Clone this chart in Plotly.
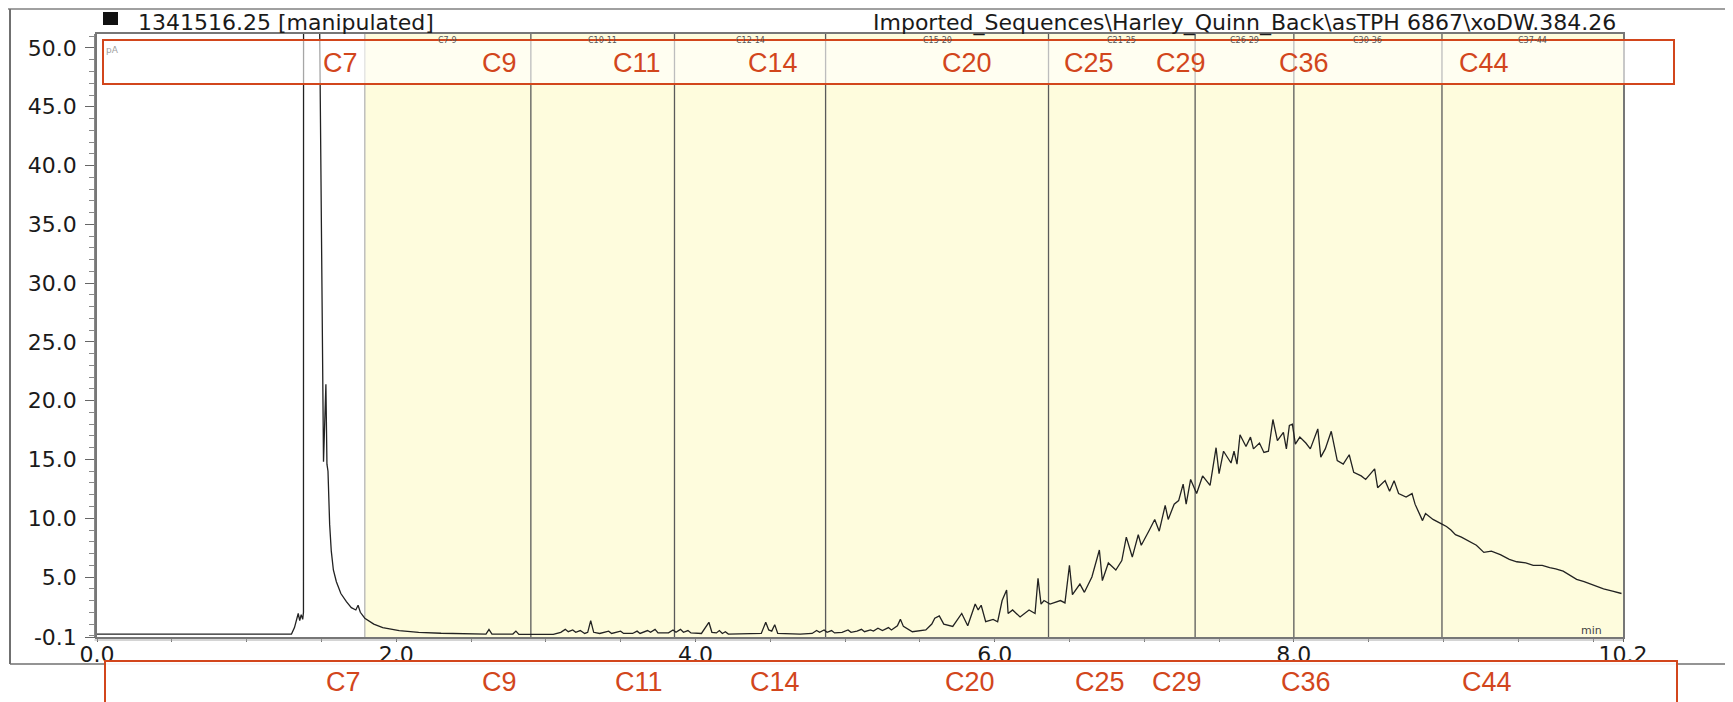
import plotly.graph_objects as go

# chromatogram (retention time in min, signal in pA)
time_min = [0.00, 0.50, 1.00, 1.30, 1.32, 1.335, 1.345, 1.355, 1.365, 1.375, 1.38, 1.385,
            1.48, 1.488, 1.514, 1.53, 1.537, 1.544, 1.555, 1.566, 1.58, 1.60, 1.63, 1.667,
            1.70, 1.73, 1.745, 1.76, 1.79, 1.85, 1.91, 2.02, 2.15, 2.30, 2.45, 2.60, 2.62,
            2.64, 2.78, 2.80, 2.82, 2.90, 3.05, 3.10, 3.13, 3.15, 3.18, 3.20, 3.23, 3.26,
            3.28, 3.30, 3.32, 3.36, 3.42, 3.44, 3.50, 3.52, 3.58, 3.61, 3.63, 3.68, 3.70,
            3.73, 3.75, 3.82, 3.85, 3.87, 3.90, 3.92, 3.95, 3.97, 4.04, 4.09, 4.11, 4.14,
            4.16, 4.18, 4.20, 4.22, 4.35, 4.44, 4.47, 4.49, 4.51, 4.53, 4.55, 4.70, 4.78,
            4.81, 4.83, 4.86, 4.88, 4.91, 4.93, 4.98, 5.02, 5.04, 5.08, 5.11, 5.13, 5.17,
            5.19, 5.22, 5.25, 5.29, 5.31, 5.35, 5.37, 5.39, 5.45, 5.50, 5.54, 5.58, 5.60,
            5.63, 5.66, 5.72, 5.78, 5.82, 5.87, 5.89, 5.91, 5.94, 5.99, 6.02, 6.05, 6.08,
            6.09, 6.12, 6.17, 6.23, 6.27, 6.29, 6.31, 6.33, 6.37, 6.44, 6.47, 6.50, 6.52,
            6.57, 6.60, 6.65, 6.70, 6.72, 6.76, 6.81, 6.85, 6.88, 6.92, 6.96, 6.98, 7.03,
            7.07, 7.10, 7.14, 7.16, 7.20, 7.23, 7.26, 7.28, 7.31, 7.35, 7.39, 7.44, 7.48,
            7.50, 7.53, 7.58, 7.60, 7.62, 7.64, 7.68, 7.71, 7.73, 7.77, 7.80, 7.83, 7.86,
            7.89, 7.93, 7.95, 7.97, 7.99, 8.01, 8.04, 8.08, 8.11, 8.16, 8.18, 8.21, 8.25,
            8.29, 8.33, 8.37, 8.40, 8.45, 8.48, 8.54, 8.56, 8.61, 8.64, 8.67, 8.70, 8.75,
            8.79, 8.81, 8.86, 8.88, 8.93, 8.99, 9.02, 9.05, 9.08, 9.12, 9.18, 9.22, 9.27,
            9.32, 9.38, 9.44, 9.49, 9.55, 9.60, 9.66, 9.71, 9.75, 9.80, 9.84, 9.89, 9.94,
            9.98, 10.03, 10.07, 10.13, 10.19]
signal_pA = [0.15, 0.15, 0.15, 0.15, 0.7, 1.6, 1.9, 1.3, 1.8, 1.4, 2.0, 400,
             400, 52, 14.8, 21.4, 14.6, 14.0, 9.5, 7.2, 5.6, 4.6, 3.6, 2.9,
             2.4, 2.2, 2.6, 2.0, 1.5, 1.0, 0.7, 0.45, 0.3, 0.22, 0.18, 0.15, 0.55,
             0.15, 0.15, 0.4, 0.12, 0.1, 0.12, 0.3, 0.55, 0.35, 0.5, 0.3, 0.45, 0.2,
             0.3, 1.3, 0.3, 0.2, 0.4, 0.2, 0.4, 0.2, 0.2, 0.4, 0.2, 0.45, 0.3,
             0.55, 0.25, 0.25, 0.5, 0.3, 0.55, 0.3, 0.45, 0.25, 0.2, 1.15, 0.3, 0.25,
             0.45, 0.2, 0.35, 0.15, 0.15, 0.2, 1.15, 0.5, 0.4, 0.95, 0.2, 0.15, 0.2,
             0.45, 0.3, 0.5, 0.3, 0.45, 0.25, 0.3, 0.5, 0.3, 0.4, 0.55, 0.35, 0.5,
             0.4, 0.65, 0.45, 0.7, 0.5, 0.85, 1.4, 0.8, 0.35, 0.4, 0.5, 1.0, 1.5,
             1.7, 1.0, 0.8, 1.9, 0.85, 2.7, 2.2, 2.6, 1.2, 1.4, 1.2, 3.0, 3.9,
             1.9, 2.2, 1.6, 2.2, 1.9, 4.9, 2.7, 3.0, 2.7, 3.0, 2.8, 6.0, 3.5,
             4.4, 3.7, 5.0, 7.3, 4.7, 6.2, 5.6, 6.4, 8.4, 6.7, 8.6, 7.7, 8.9,
             9.9, 8.9, 11.1, 9.9, 11.2, 11.5, 12.9, 11.2, 13.3, 12.1, 13.6, 12.8, 16.0,
             13.8, 15.7, 14.7, 15.7, 14.6, 17.1, 16.1, 16.9, 15.9, 16.4, 15.6, 15.7, 18.4,
             16.6, 17.3, 15.9, 17.9, 18.0, 16.3, 16.9, 16.4, 15.9, 17.6, 15.2, 15.9, 17.4,
             14.9, 14.6, 15.4, 13.9, 13.6, 13.3, 14.2, 12.6, 13.2, 12.3, 13.2, 12.1, 11.8,
             12.1, 11.2, 9.8, 10.4, 9.9, 9.5, 9.3, 9.0, 8.6, 8.4, 8.0, 7.7, 7.1,
             7.2, 6.9, 6.5, 6.3, 6.2, 6.0, 6.0, 5.8, 5.7, 5.5, 5.2, 4.8, 4.6,
             4.4, 4.2, 4.0, 3.8, 3.6]

band_edges = [1.79, 2.90, 3.86, 4.87, 6.36, 7.34, 8.00, 8.99, 10.2]
band_names = ['C7-9', 'C10-11', 'C12-14', 'C15-20', 'C21-25', 'C26-29', 'C30-36', 'C37-44']
carbon_marks = ['C7', 'C9', 'C11', 'C14', 'C20', 'C25', 'C29', 'C36', 'C44']
y_ticks = [-0.1, 5, 10, 15, 20, 25, 30, 35, 40, 45, 50]
x_ticks = [0, 2, 4, 6, 8, 10.2]
header_left = '1341516.25 [manipulated]'
header_right = 'Imported_Sequences\\Harley_Quinn_Back\\asTPH 6867\\xoDW.384.26'

# the page body adds an 8 px margin, so the figure is laid out 8 px in from the window
OFF = 8
WIN_W, WIN_H = 1733, 702
W, H = WIN_W - OFF, WIN_H - OFF
# plot area in window pixels: x 97..1623, y 34..637
L, T = 97 - OFF, 34 - OFF
R, B = WIN_W - 1623, WIN_H - 637
RED = '#D2461C'


def px(x):
    return (x - OFF - L) / (W - L - R)


def py(y):
    return (H - B - (y - OFF)) / (H - T - B)


fig = go.Figure()
fig.add_trace(go.Scatter(x=time_min, y=signal_pA, mode='lines',
                         line=dict(color='#222222', width=1.3), showlegend=False))

shapes = []
# yellow integration bands and their borders
shapes.append(dict(type='rect', xref='x', yref='paper', x0=band_edges[0], x1=band_edges[-1],
                   y0=0, y1=1, fillcolor='#FEFCDD', line_width=0, layer='below'))
for i, e in enumerate(band_edges[:-1]):
    shapes.append(dict(type='line', xref='x', yref='paper', x0=e, x1=e, y0=0, y1=1,
                       line=dict(color='#B5B5B5' if i == 0 else '#5A5A5A', width=1.3),
                       layer='below'))
# double frame lines on left and bottom
shapes.append(dict(type='line', xref='paper', yref='paper', x0=px(94.5), x1=px(94.5),
                   y0=0, y1=1, line=dict(color='#888888', width=1)))
shapes.append(dict(type='line', xref='paper', yref='paper', x0=px(94.5), x1=1,
                   y0=py(640), y1=py(640), line=dict(color='#AAAAAA', width=1)))
# outer frame of the original export
shapes.append(dict(type='line', xref='paper', yref='paper', x0=px(0), x1=px(WIN_W),
                   y0=py(9), y1=py(9), line=dict(color='#A0A0A0', width=2)))
shapes.append(dict(type='line', xref='paper', yref='paper', x0=px(10), x1=px(10),
                   y0=py(9), y1=py(664), line=dict(color='#707070', width=2)))
shapes.append(dict(type='line', xref='paper', yref='paper', x0=px(10), x1=px(WIN_W),
                   y0=py(664), y1=py(664), line=dict(color='#707070', width=1.5)))
# black marker square in the header
shapes.append(dict(type='rect', xref='paper', yref='paper', x0=px(103), x1=px(118),
                   y0=py(12), y1=py(25), fillcolor='#111111', line_width=0))
# red highlight boxes
shapes.append(dict(type='rect', xref='paper', yref='paper', x0=px(103), x1=px(1674),
                   y0=py(40), y1=py(84), fillcolor='rgba(255,255,255,0.6)',
                   line=dict(color=RED, width=2), layer='above'))
shapes.append(dict(type='rect', xref='paper', yref='paper', x0=px(105), x1=px(1677),
                   y0=py(661), y1=py(730), fillcolor='rgba(255,255,255,0.93)',
                   line=dict(color=RED, width=2), layer='above'))

annotations = []
for i, name in enumerate(band_names):
    annotations.append(dict(x=(band_edges[i] + band_edges[i + 1]) / 2, xref='x',
                            y=py(34), yref='paper', yanchor='top', text=name,
                            showarrow=False, font=dict(family='DejaVu Sans', size=8,
                                                       color='#555555')))
top_x = [340, 500, 637, 773, 967, 1089, 1181, 1304, 1484]
bottom_x = [343, 500, 639, 775, 970, 1100, 1177, 1306, 1487]
for name, xt, xb in zip(carbon_marks, top_x, bottom_x):
    for xx, yy in ((xt, 63), (xb, 682)):
        annotations.append(dict(x=px(xx), y=py(yy), xref='paper', yref='paper', text=name,
                                showarrow=False, xanchor='center', yanchor='middle',
                                font=dict(family='Liberation Sans Narrow, Liberation Sans',
                                          size=27, color=RED)))
annotations.append(dict(x=px(136), y=py(OFF), xref='paper', yref='paper', text=header_left,
                        showarrow=False, xanchor='left', yanchor='top',
                        font=dict(family='DejaVu Sans', size=22, color='#1a1a1a')))
annotations.append(dict(x=px(1618), y=py(OFF), xref='paper', yref='paper', text=header_right,
                        showarrow=False, xanchor='right', yanchor='top',
                        font=dict(family='DejaVu Sans', size=22, color='#1a1a1a')))
annotations.append(dict(x=px(104), y=py(50), xref='paper', yref='paper', text='pA',
                        showarrow=False, xanchor='left', yanchor='middle',
                        font=dict(family='DejaVu Sans', size=9, color='#A0A0A0')))
annotations.append(dict(x=px(1604), y=py(630), xref='paper', yref='paper', text='min',
                        showarrow=False, xanchor='right', yanchor='middle',
                        font=dict(family='DejaVu Sans', size=11, color='#444444')))

fig.update_layout(
    width=W, height=H, template='none',
    margin=dict(l=L, r=R, t=T, b=B, autoexpand=False),
    paper_bgcolor='white', plot_bgcolor='white',
    shapes=shapes, annotations=annotations, showlegend=False,
    font=dict(family='DejaVu Sans', size=22, color='#1a1a1a'),
)
fig.update_xaxes(range=[0, 10.2], tickvals=x_ticks, ticktext=['%.1f' % v for v in x_ticks],
                 ticks='outside', ticklen=3, tickcolor='#666666', showgrid=False,
                 zeroline=False, showline=True, linecolor='#777777', linewidth=1.5,
                 mirror=True, automargin=False, ticklabelstandoff=-6,
                 minor=dict(tick0=0, dtick=0.5, ticks='outside', ticklen=3,
                            tickcolor='#777777', showgrid=False))
fig.update_yaxes(range=[-0.1, 51.19], tickvals=y_ticks, ticktext=['%.1f' % v for v in y_ticks],
                 ticks='outside', ticklen=10, tickcolor='#666666', showgrid=False,
                 zeroline=False, showline=True, linecolor='#777777', linewidth=1.5,
                 mirror=True, automargin=False, ticklabelstandoff=4,
                 minor=dict(tick0=0, dtick=1, ticks='outside', ticklen=6,
                            tickcolor='#888888', showgrid=False))

fig.write_html('out.html')
